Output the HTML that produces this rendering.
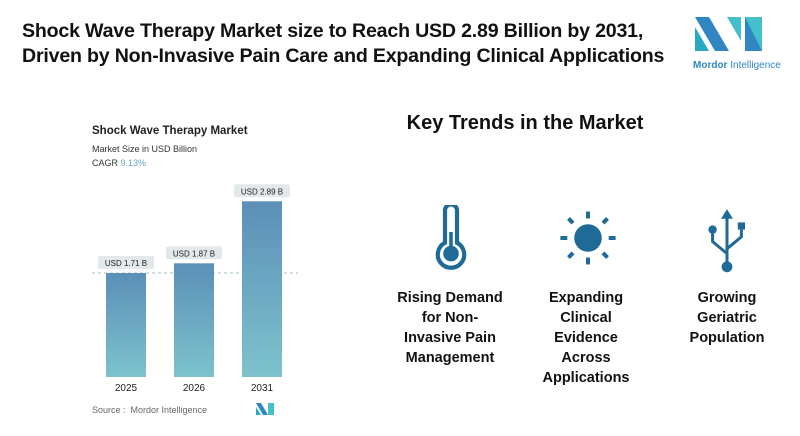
<!DOCTYPE html>
<html><head><meta charset="utf-8"><style>
body{margin:0;width:800px;height:436px;background:#fff;font-family:"Liberation Sans",sans-serif;position:relative;overflow:hidden}
.t{position:absolute;left:22px;top:19px;font-weight:bold;font-size:19.6px;line-height:25px;color:#111;letter-spacing:-0.2px;white-space:nowrap}
.kt{position:absolute;left:380px;width:290px;top:112px;text-align:center;font-weight:bold;font-size:20px;color:#111}
.tr{position:absolute;top:288px;text-align:center;font-weight:bold;font-size:14.5px;line-height:20px;color:#111}
</style></head><body>
<div class="t">Shock Wave Therapy Market size to Reach USD 2.89 Billion by 2031,<br>Driven by Non-Invasive Pain Care and Expanding Clinical Applications</div>
<svg style="position:absolute;left:692px;top:15px" width="90" height="60">
<polygon points="3,2 17,2 37,36 23,36" fill="#2f86c0"/><polygon points="3,12 3,36 17,36" fill="#2aa9c4"/>
<polygon points="35,2 49,2 49,26" fill="#44c0cc"/><polygon points="53,2 70,2 70,36 53,36" fill="#44c0cc"/><polygon points="53,2 70,36 53,36" fill="#2f86c0"/>
<text x="1" y="53" font-size="10" fill="#2f86c0" font-family="Liberation Sans"><tspan font-weight="bold">Mordor</tspan> Intelligence</text></svg>
<div style="position:absolute;left:92px;top:125px;font-size:11.5px;font-weight:bold;color:#222">Shock Wave Therapy Market</div>
<div style="position:absolute;left:92px;top:144px;font-size:9px;color:#333">Market Size in USD Billion</div>
<div style="position:absolute;left:92px;top:158px;font-size:9px;color:#333">CAGR <span style="color:#6aa6c8">9.13%</span></div>
<svg id="ch" style="position:absolute;left:0;top:0" width="340" height="436">
<defs><linearGradient id="g" x1="0" y1="0" x2="0" y2="1"><stop offset="0" stop-color="#5b8fb8"/><stop offset="1" stop-color="#7dc2cc"/></linearGradient></defs>
</svg>
<div style="position:absolute;left:92px;top:405px;font-size:9px;color:#666">Source :&nbsp; Mordor Intelligence</div>
<svg style="position:absolute;left:256px;top:403px" width="20" height="12"><polygon points="0,0 5,0 12,12 7,12" fill="#2f86c0"/><polygon points="0,4 0,12 5,12" fill="#2aa9c4"/><polygon points="12,0 18,0 18,12 12,12" fill="#44c0cc"/></svg>
<div class="kt">Key Trends in the Market</div>
<svg style="position:absolute;left:380px;top:205px" width="400" height="70">
<g fill="#1f6a96" transform="translate(71,33) scale(1.2) translate(-71,-33)"><path d="M66,10a5,5 0 0 1 10,0v27a11,11 0 1 1 -10,0z" fill="none" stroke="#1f6a96" stroke-width="3.5"/><rect x="69.5" y="28" width="3" height="14"/><circle cx="71" cy="46" r="6.5"/></g>
<g fill="#1f6a96" stroke="#1f6a96" stroke-width="3.5" transform="translate(208,33) scale(1.15) translate(-208,-33)"><circle cx="208" cy="33" r="12" stroke="none"/>
<line x1="208" y1="10" x2="208" y2="16"/><line x1="208" y1="50" x2="208" y2="56"/><line x1="184" y1="33" x2="190" y2="33"/><line x1="226" y1="33" x2="232" y2="33"/>
<line x1="191" y1="16" x2="195" y2="20"/><line x1="221" y1="46" x2="225" y2="50"/><line x1="225" y1="16" x2="221" y2="20"/><line x1="195" y1="46" x2="191" y2="50"/></g>
<g fill="#1f6a96" stroke="#1f6a96" stroke-width="2.5" transform="translate(347,33) scale(1.2) translate(-347,-33)"><line x1="347" y1="14" x2="347" y2="54"/><polygon points="347,9 342,17 352,17" stroke="none"/>
<circle cx="347" cy="57" r="4.5" stroke="none"/><circle cx="335" cy="26" r="3.5" stroke="none"/><rect x="356" y="20" width="6" height="6" stroke="none"/>
<polyline points="335,28 335,36 347,46" fill="none"/><polyline points="359,26 359,32 347,42" fill="none"/></g></svg>
<div class="tr" style="left:390px;width:120px">Rising Demand<br>for Non-<br>Invasive Pain<br>Management</div>
<div class="tr" style="left:526px;width:120px">Expanding<br>Clinical<br>Evidence<br>Across<br>Applications</div>
<div class="tr" style="left:667px;width:120px">Growing<br>Geriatric<br>Population</div>
<script>
const categories=["2025","2026","2031"];
const values=[1.71,1.87,2.89];
const labels=["USD 1.71 B","USD 1.87 B","USD 2.89 B"];
const svg=document.getElementById('ch'),NS="http://www.w3.org/2000/svg";
const base=377,scale=60.8,x0=106,step=68,bw=40;
const y=v=>base-v*scale, x=i=>x0+i*step;
function mk(t,a){const e=document.createElementNS(NS,t);for(const k in a)e.setAttribute(k,a[k]);svg.appendChild(e);return e;}
const dl=mk('line',{x1:92,x2:298,y1:y(values[0]),y2:y(values[0]),stroke:'#8aa',"stroke-dasharray":"3,3","stroke-width":0.8});


values.forEach((v,i)=>{
const r=mk('rect',{x:x(i),y:y(v),width:bw,height:base-y(v),fill:'url(#g)'});


const p=mk('rect',{x:x(i)-8,y:y(v)-17,width:bw+16,height:13,rx:2,fill:'#e3e8ea'});


const t=mk('text',{x:x(i)+bw/2,y:y(v)-7,"text-anchor":"middle","font-size":8,fill:'#222'});t.textContent=labels[i];


const c=mk('text',{x:x(i)+bw/2,y:base+14,"text-anchor":"middle","font-size":10,fill:'#222'});c.textContent=categories[i];


});
</script>
</body></html>
